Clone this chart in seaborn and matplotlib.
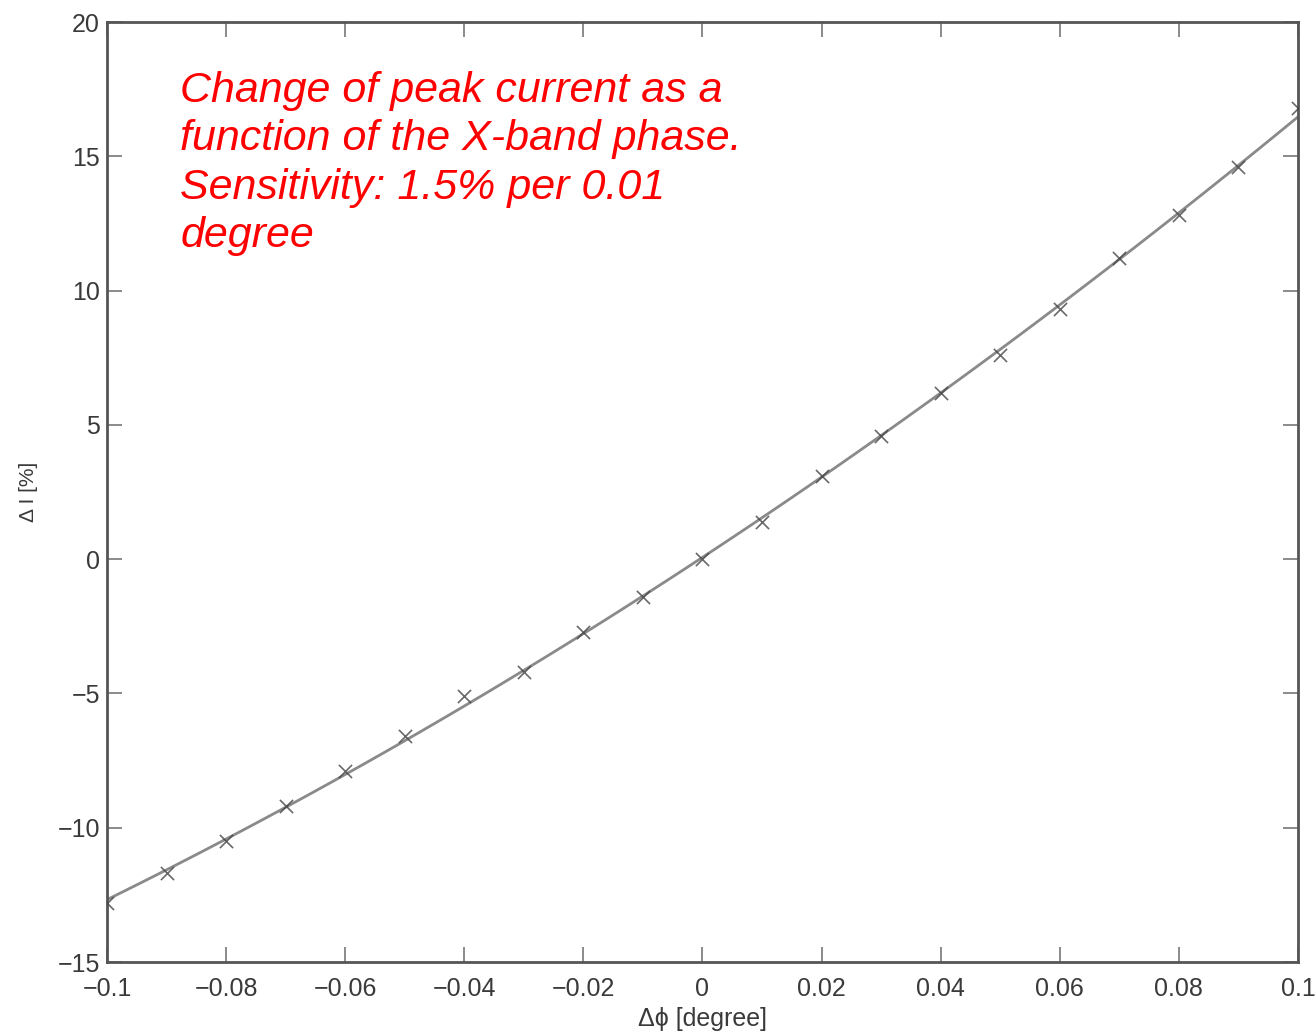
import numpy as np
import pandas as pd
import matplotlib
matplotlib.use("Agg")
import matplotlib.pyplot as plt
import seaborn as sns

# X-band phase offset [degree] and measured peak-current change [%]
phase_deg = [-0.10, -0.09, -0.08, -0.07, -0.06, -0.05, -0.04, -0.03, -0.02, -0.01,
             0.00, 0.01, 0.02, 0.03, 0.04, 0.05, 0.06, 0.07, 0.08, 0.09, 0.10]
delta_i_pct = [-12.8, -11.7, -10.5, -9.2, -7.9, -6.6, -5.1, -4.2, -2.7, -1.4,
               0.0, 1.4, 3.1, 4.6, 6.2, 7.6, 9.3, 11.2, 12.8, 14.6, 16.8]

x_ticks = [-0.1, -0.08, -0.06, -0.04, -0.02, 0, 0.02, 0.04, 0.06, 0.08, 0.1]
x_tick_labels = ["\u22120.1", "\u22120.08", "\u22120.06", "\u22120.04", "\u22120.02", "0",
                 "0.02", "0.04", "0.06", "0.08", "0.1"]
y_ticks = [-15, -10, -5, 0, 5, 10, 15, 20]
y_tick_labels = ["\u221215", "\u221210", "\u22125", "0", "5", "10", "15", "20"]

df = pd.DataFrame({"phase": phase_deg, "dI": delta_i_pct})

sns.set_theme(style="white")
plt.rcParams["font.family"] = ["Liberation Sans", "DejaVu Sans"]

fig = plt.figure(figsize=(13.16, 10.33), dpi=100)
ax = fig.add_axes([0.0813, 0.0687, 0.905, 0.9100])

# measured points with a second-order polynomial fit
sns.regplot(data=df, x="phase", y="dI", order=2, ci=None, truncate=True, ax=ax,
            marker="x",
            scatter_kws=dict(color="#444444", s=90, linewidths=1.2, zorder=3),
            line_kws=dict(color="#8a8a8a", lw=2.0, zorder=2))

ax.set_xlim(-0.1, 0.1)
ax.set_ylim(-15, 20)
ax.set_xticks(x_ticks)
ax.set_xticklabels(x_tick_labels)
ax.set_yticks(y_ticks)
ax.set_yticklabels(y_tick_labels)
ax.tick_params(direction="in", length=11, width=1.2, colors="#777777",
               labelcolor="#3a3a3a", labelsize=18, top=True, right=True,
               bottom=True, left=True)
ax.tick_params(axis="x", pad=11)
ax.tick_params(axis="y", pad=5)
for s in ax.spines.values():
    s.set_color("#555555")
    s.set_linewidth(2.0)

ax.set_xlabel("\u0394\u03d5 [degree]", fontsize=18, color="#3a3a3a", labelpad=4)
ax.set_ylabel("\u0394 I [%]", fontsize=15, color="#3a3a3a", labelpad=14)

ax.text(0.0617, 0.948,
        "Change of peak current as a\nfunction of the X-band phase.\nSensitivity: 1.5% per 0.01\ndegree",
        transform=ax.transAxes, color="#ff0000", fontsize=31, fontstyle="italic",
        va="top", ha="left", linespacing=1.27)

fig.savefig("out.png", dpi=100)
